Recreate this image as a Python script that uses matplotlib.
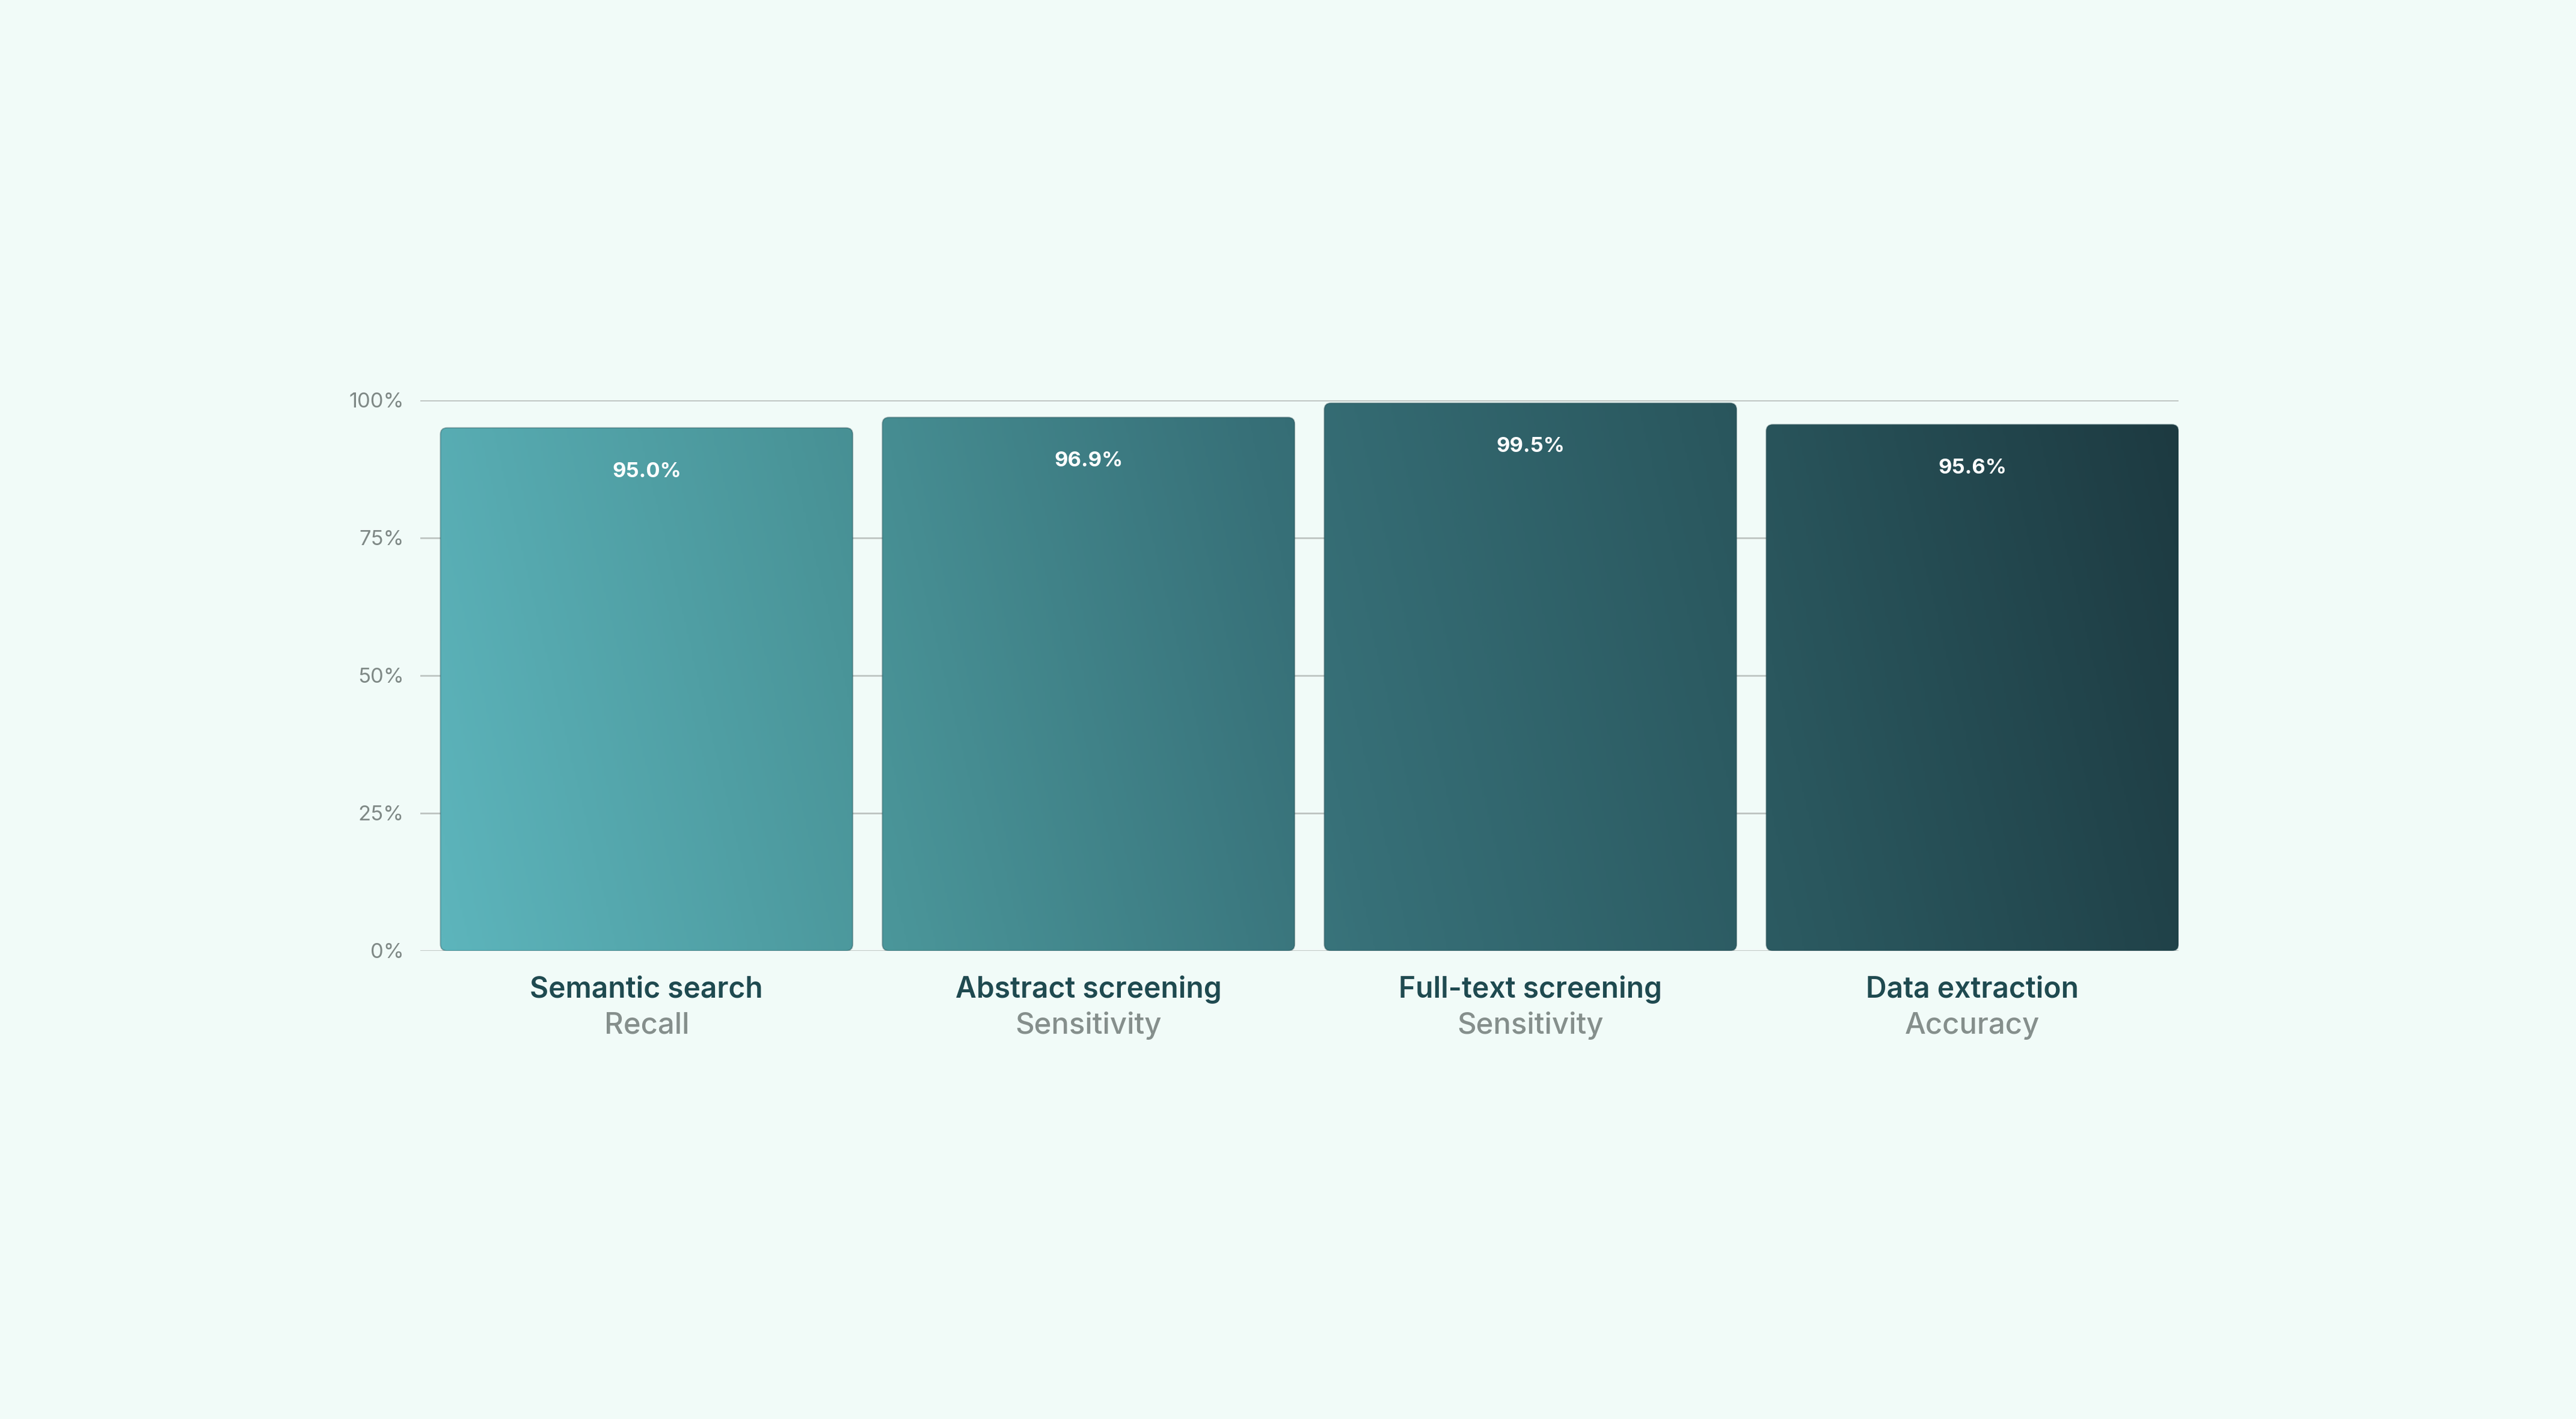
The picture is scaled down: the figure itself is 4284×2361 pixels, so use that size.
import numpy as np
import matplotlib
matplotlib.use("Agg")
import matplotlib.pyplot as plt
from matplotlib.patches import FancyBboxPatch
from matplotlib.colors import LinearSegmentedColormap
import matplotlib.transforms as mtransforms

# ---- data ----
categories = ["Semantic search", "Abstract screening", "Full-text screening", "Data extraction"]
metrics = ["Recall", "Sensitivity", "Sensitivity", "Accuracy"]
values = [95.0, 96.9, 99.5, 95.6]
value_labels = ["95.0%", "96.9%", "99.5%", "95.6%"]
yticks = [0, 25, 50, 75, 100]
ytick_labels = ["0%", "25%", "50%", "75%", "100%"]

plt.rcParams['font.family'] = ['Inter', 'DejaVu Sans']

BG = "#f1fbf8"
W, H, DPI = 4284, 2361, 300
fig = plt.figure(figsize=(W / DPI, H / DPI), dpi=DPI, facecolor=BG)

ax_l, ax_r = 699 / W, 3623 / W
ax_b, ax_t = 1 - 1582 / H, 1 - 666 / H
ax = fig.add_axes([ax_l, ax_b, ax_r - ax_l, ax_t - ax_b])
ax.set_facecolor("none")

bar_w = 0.933
xlim = (-0.512, 3 + bar_w / 2)
ax.set_xlim(*xlim)
ax.set_ylim(0, 100)

for s in ax.spines.values():
    s.set_visible(False)

ax.set_yticks(yticks)
ax.set_yticklabels(ytick_labels)
ax.tick_params(axis='y', length=0, pad=6.5, labelsize=8.3, labelcolor="#7f8986")
ax.set_xticks([])
ax.yaxis.grid(True, color="#bfc6c3", linewidth=0.7, zorder=0)
ax.set_axisbelow(True)

x = np.arange(len(categories))
bars = ax.bar(x, values, width=bar_w, color="none", edgecolor="none", zorder=1)

# gradient colormap across all bars
cmap = LinearSegmentedColormap.from_list(
    "teal", [(0.0, "#5db5bc"), (0.25, "#4a9599"), (0.5, "#377078"),
             (0.75, "#2a575e"), (1.0, "#1d3a41")])

x0 = bars[0].get_x()
x1 = bars[-1].get_x() + bars[-1].get_width()
nx, ny = 800, 200
tx = np.linspace(0, 1, nx)[None, :]
ty = np.linspace(1, 0, ny)[:, None]  # top row = 1
u = np.clip(0.93 * tx + 0.07 * ty, 0, 1)
img = cmap(u)

# rounding geometry
px_per_x = (ax_r - ax_l) * W / (xlim[1] - xlim[0])
px_per_y = (ax_t - ax_b) * H / 100.0
r_px = 11
r_x = r_px / px_per_x
aspect = (r_px / px_per_y) / r_x

for b, lab in zip(bars, value_labels):
    bx, bw, bh = b.get_x(), b.get_width(), b.get_height()
    patch = FancyBboxPatch((bx, 0), bw, bh,
                           boxstyle=f"round,pad=0,rounding_size={r_x}",
                           mutation_aspect=aspect,
                           facecolor="none", edgecolor=(0.1, 0.25, 0.28, 0.35),
                           linewidth=0.5, zorder=3)
    ax.add_patch(patch)
    im = ax.imshow(img, extent=[x0, x1, 0, 100], aspect='auto',
                   interpolation='bilinear', zorder=2)
    im.set_clip_path(patch)
    ax.annotate(lab, (bx + bw / 2, bh), xytext=(0, -17.5),
                textcoords='offset points', ha='center', va='center',
                color="white", fontsize=8.3, fontweight='bold', zorder=4)

ax.set_xlim(*xlim)
ax.set_ylim(0, 100)

trans = mtransforms.blended_transform_factory(ax.transData, fig.transFigure)
for xi, cat, met in zip(x, categories, metrics):
    ax.text(xi, 1 - 1647 / H, cat, transform=trans, ha='center', va='center',
            fontsize=11.5, fontweight='semibold', color="#1f4a50")
    ax.text(xi, 1 - 1707 / H, met, transform=trans, ha='center', va='center',
            fontsize=11.8, fontweight='medium', color="#858f8c")

fig.savefig("out.png", dpi=DPI, facecolor=BG)
